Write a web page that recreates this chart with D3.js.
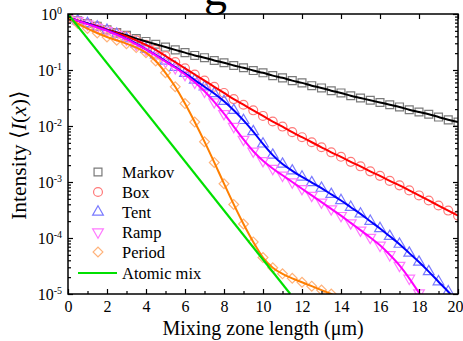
<!DOCTYPE html>
<html><head><meta charset="utf-8">
<script src="https://cdn.jsdelivr.net/npm/d3@7"></script>
<style>
body{margin:0;background:#fff}
svg{display:block}
text{font-family:"Liberation Serif","Times New Roman",serif;fill:#000}
</style>
</head><body>
<svg id="c" width="463" height="341"></svg>
<script>
// ---- data (intensities stored as log10 exponents) ----
const xPositions = [0,0.5,1,1.5,2,2.5,3,3.5,4,4.5,5,5.5,6,6.5,7,7.5,8,8.5,9,9.5,10,10.5,11,11.5,12,12.5,13,13.5,14,14.5,15,15.5,16,16.5,17,17.5,18,18.5,19,19.5,20];
const markovExp = [-0.07,-0.12,-0.17,-0.22,-0.28,-0.33,-0.38,-0.44,-0.49,-0.54,-0.59,-0.64,-0.69,-0.74,-0.78,-0.83,-0.87,-0.92,-0.96,-1.01,-1.05,-1.10,-1.14,-1.19,-1.23,-1.28,-1.32,-1.37,-1.41,-1.46,-1.50,-1.54,-1.58,-1.62,-1.66,-1.71,-1.75,-1.79,-1.84,-1.89,-1.93];
const boxExp = [-0.07,-0.12,-0.17,-0.22,-0.28,-0.34,-0.40,-0.47,-0.55,-0.64,-0.75,-0.86,-0.97,-1.08,-1.19,-1.30,-1.41,-1.52,-1.62,-1.72,-1.82,-1.92,-2.01,-2.11,-2.20,-2.29,-2.38,-2.47,-2.55,-2.64,-2.72,-2.81,-2.89,-2.98,-3.06,-3.15,-3.24,-3.33,-3.42,-3.51,-3.60];
const tentExp = [-0.07,-0.12,-0.17,-0.23,-0.29,-0.36,-0.44,-0.53,-0.63,-0.73,-0.84,-0.95,-1.06,-1.18,-1.30,-1.42,-1.56,-1.72,-1.90,-2.10,-2.32,-2.52,-2.68,-2.80,-2.91,-3.01,-3.11,-3.22,-3.33,-3.45,-3.57,-3.70,-3.83,-3.97,-4.11,-4.27,-4.43,-4.60,-4.78,-4.96,-5.15];
const rampExp = [-0.07,-0.12,-0.18,-0.24,-0.30,-0.37,-0.45,-0.54,-0.63,-0.74,-0.85,-0.96,-1.08,-1.22,-1.38,-1.57,-1.78,-2.01,-2.24,-2.45,-2.62,-2.76,-2.88,-3.00,-3.12,-3.24,-3.36,-3.48,-3.60,-3.73,-3.86,-3.99,-4.13,-4.30,-4.49,-4.72,-4.98,-5.25];
const periodExp = [-0.07,-0.17,-0.26,-0.34,-0.41,-0.47,-0.53,-0.60,-0.69,-0.84,-1.05,-1.30,-1.60,-1.93,-2.28,-2.65,-3.03,-3.40,-3.75,-4.07,-4.35,-4.53,-4.64,-4.72,-4.79,-4.86,-4.93,-5.00,-5.08];
const atomicX = [0, 11.4];
const atomicExp = [0, -5];
const xTickLabels = [0,2,4,6,8,10,12,14,16,18,20];
const xMinorTicks = [1,3,5,7,9,11,13,15,17,19];
const yTickExponents = [0,-1,-2,-3,-4,-5];
const legendLabels = ["Markov","Box","Tent","Ramp","Period","Atomic mix"];

// ---- layout ----
const L=68, R=458, T=14, B=294;
const SERIF = '"Liberation Serif","Times New Roman",serif';
const x = d3.scaleLinear().domain([0,20]).range([L,R]);
const y = d3.scaleLog().domain([1e-5,1]).range([B,T]);
const svg = d3.select('#c');

// clipped lower part of an outer title glyph
svg.append('text').attr('x',204).attr('y',5).attr('font-size',46).attr('font-family',SERIF).text('g');

svg.append('defs').append('clipPath').attr('id','clip')
  .append('rect').attr('x',L).attr('y',T).attr('width',R-L).attr('height',B-T);

const series = [
  {name:legendLabels[0], exp:markovExp, color:'#000000', mcol:'#7a7a7a', sym:d3.symbolSquare, size:62, rot:0},
  {name:legendLabels[1], exp:boxExp, color:'#ff0000', mcol:'#ff7a7a', sym:d3.symbolCircle, size:62, rot:0},
  {name:legendLabels[2], exp:tentExp, color:'#0000ff', mcol:'#7a7aff', sym:d3.symbolTriangle, size:50, rot:0},
  {name:legendLabels[3], exp:rampExp, color:'#ff00ff', mcol:'#ff7aff', sym:d3.symbolTriangle, size:50, rot:180},
  {name:legendLabels[4], exp:periodExp, color:'#ff7f00', mcol:'#ffb27a', sym:d3.symbolSquare, size:48, rot:45}
];
const toPts = (exps, xs) => exps.map((e,i)=>({x:xs[i], v:Math.pow(10,e)}));
const line = d3.line().x(d=>x(d.x)).y(d=>y(d.v)).curve(d3.curveMonotoneX);

const plot = svg.append('g').attr('clip-path','url(#clip)');
series.forEach(s=>{
  const sym = d3.symbol().type(s.sym).size(s.size);
  plot.append('g').selectAll('path').data(toPts(s.exp, xPositions)).enter().append('path')
    .attr('d', sym)
    .attr('transform', d=>`translate(${x(d.x)},${y(d.v)}) rotate(${s.rot})`)
    .attr('fill','none').attr('stroke',s.mcol).attr('stroke-width',1.2);
});
series.forEach(s=>{
  plot.append('path').datum(toPts(s.exp, xPositions)).attr('d',line)
    .attr('fill','none').attr('stroke',s.color).attr('stroke-width',2);
});
plot.append('path').datum(toPts(atomicExp, atomicX))
  .attr('d', d3.line().x(d=>x(d.x)).y(d=>y(d.v)))
  .attr('fill','none').attr('stroke','#00e000').attr('stroke-width',2.2);

// ---- axes ----
function style(g){
  g.select('.domain').remove();
  g.selectAll('.tick line').attr('stroke','#000').attr('stroke-width',1.2);
  g.attr('font-family',SERIF).attr('font-size',16);
  g.selectAll('.tick text').attr('font-family',SERIF);
}
const gb = svg.append('g').attr('transform',`translate(0,${B})`)
  .call(d3.axisBottom(x).tickValues(xTickLabels).tickSize(-5).tickPadding(7).tickFormat(d3.format('d'))).call(style);
gb.selectAll('.tick text').filter(d=>d===20).attr('dx',-3);
svg.append('g').attr('transform',`translate(0,${B})`)
  .call(d3.axisBottom(x).tickValues(xMinorTicks).tickSize(-3).tickFormat('')).call(style);
svg.append('g').attr('transform',`translate(0,${T})`)
  .call(d3.axisTop(x).tickValues(xTickLabels).tickSize(-5).tickFormat('')).call(style);

const yMajor = yTickExponents.map(e=>Math.pow(10,e));
const yMinor = [];
yTickExponents.slice(1).forEach(e=>{ [2,3,4,5,6,7,8,9].forEach(m=>yMinor.push(m*Math.pow(10,e))); });

const gl = svg.append('g').attr('transform',`translate(${L},0)`)
  .call(d3.axisLeft(y).tickValues(yMajor).tickSize(-5).tickPadding(6).tickFormat(()=>'10')).call(style);
gl.selectAll('.tick text').each(function(d){
  d3.select(this).append('tspan').attr('dy','-0.6em').attr('font-size',10)
    .text(String(Math.round(Math.log10(d))));
});
svg.append('g').attr('transform',`translate(${L},0)`)
  .call(d3.axisLeft(y).tickValues(yMinor).tickSize(-3).tickFormat('')).call(style);
svg.append('g').attr('transform',`translate(${R},0)`)
  .call(d3.axisRight(y).tickValues(yMajor).tickSize(-5).tickFormat('')).call(style);
svg.append('g').attr('transform',`translate(${R},0)`)
  .call(d3.axisRight(y).tickValues(yMinor).tickSize(-3).tickFormat('')).call(style);

svg.append('rect').attr('x',L).attr('y',T).attr('width',R-L).attr('height',B-T)
  .attr('fill','none').attr('stroke','#000').attr('stroke-width',1.5);

// ---- titles ----
svg.append('text').attr('x',(L+R)/2).attr('y',335).attr('text-anchor','middle').attr('font-size',20)
  .attr('font-family',SERIF).text('Mixing zone length (μm)');
const yt = svg.append('text').attr('transform','translate(26,155) rotate(-90)').attr('text-anchor','middle')
  .attr('font-size',21.5).attr('font-family',SERIF);
yt.append('tspan').text('Intensity ⟨');
yt.append('tspan').attr('font-style','italic').text('I');
yt.append('tspan').text('(');
yt.append('tspan').attr('font-style','italic').text('x');
yt.append('tspan').text(')⟩');

// ---- legend ----
const lg = svg.append('g');
series.forEach((s,i)=>{
  const cy = 172 + i*20;
  lg.append('path').attr('d', d3.symbol().type(s.sym).size(s.size)())
    .attr('transform',`translate(98,${cy}) rotate(${s.rot})`)
    .attr('fill','none').attr('stroke',s.mcol).attr('stroke-width',1.2);
  lg.append('text').attr('x',122).attr('y',cy).attr('dy','0.35em').attr('font-size',16.5)
    .attr('font-family',SERIF).text(s.name);
});
lg.append('line').attr('x1',78).attr('x2',117).attr('y1',273).attr('y2',273)
  .attr('stroke','#00e000').attr('stroke-width',2.2);
lg.append('text').attr('x',122).attr('y',273).attr('dy','0.35em').attr('font-size',16.5)
  .attr('font-family',SERIF).text(legendLabels[5]);
</script>
</body></html>
